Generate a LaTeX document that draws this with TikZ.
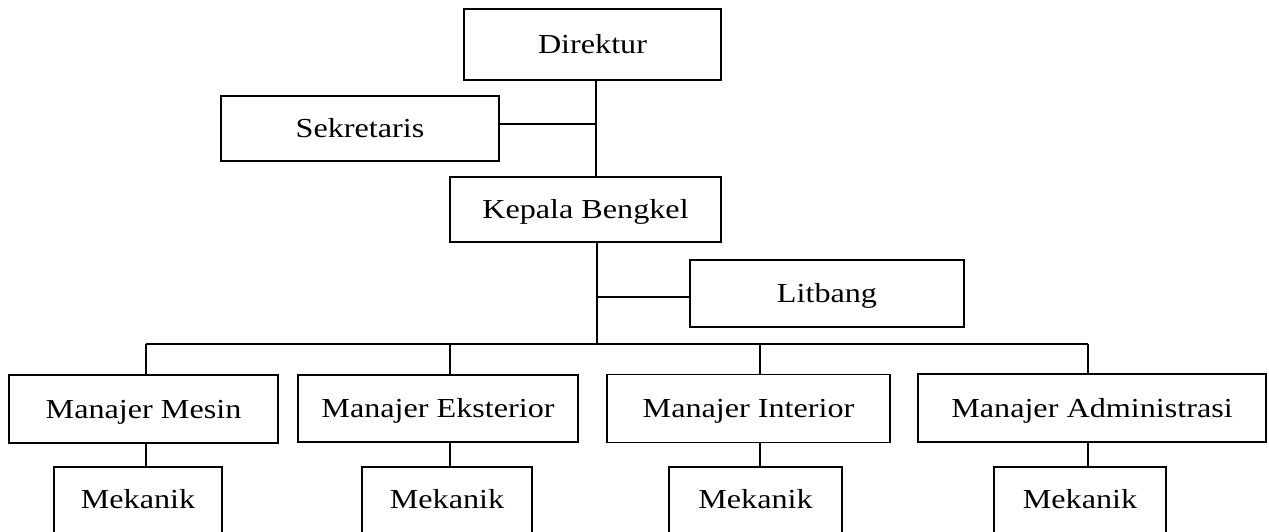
\documentclass[tikz,border=0pt]{standalone}
\usepackage{fontspec}
\setmainfont{Liberation Serif}[FakeStretch=1.17]
\begin{document}
\begin{tikzpicture}[x=1pt,y=-1pt,
  box/.style={draw, line width=1.4pt, inner sep=0pt, text height=19pt, text depth=1pt,
    font=\fontsize{27.5}{30}\selectfont},
  mek/.style={draw, line width=1.4pt, inner xsep=0pt, inner ysep=22pt, text height=19pt, text depth=45pt,
    anchor=base, font=\fontsize{27.5}{30}\selectfont},
  conn/.style={line width=1.4pt}]
\useasboundingbox (0,0) rectangle (1269,531);
\clip (0,0) rectangle (1269,531);
\fill[white] (0,0) rectangle (1269,531);
% boxes
\node[box, minimum width=257pt, minimum height=71pt] (dir) at (592.5,44.5) {Direktur};
\node[box, minimum width=278pt, minimum height=65pt] (sek) at (360,128.5) {Sekretaris};
\node[box, minimum width=271pt, minimum height=65pt] (kep) at (585.5,209.5) {Kepala Bengkel};
\node[box, minimum width=274pt, minimum height=67pt] (lit) at (827,293.5) {Litbang};
\node[box, minimum width=269pt, minimum height=68pt] (mm) at (143.5,409) {Manajer Mesin};
\node[box, minimum width=280pt, minimum height=67pt] (me) at (438,408.5) {Manajer Eksterior};
\node[box, minimum width=283pt, minimum height=68pt] (mi) at (748.5,408.5) {Manajer Interior};
\node[box, minimum width=348pt, minimum height=68pt] (ma) at (1092,408) {Manajer Administrasi};
\node[mek, minimum width=168pt] (k1) at (138,508) {Mekanik};
\node[mek, minimum width=170pt] (k2) at (447,508) {Mekanik};
\node[mek, minimum width=173pt] (k3) at (755.5,508) {Mekanik};
\node[mek, minimum width=172pt] (k4) at (1080,508) {Mekanik};
% junctions
\coordinate (j1) at (596,124);
\coordinate (j2) at (597,297);
\coordinate (bL) at (146,344);
\coordinate (b2) at (450,344);
\coordinate (b3) at (760,344);
\coordinate (bR) at (1088,344);
% connectors
\draw[conn] (dir.south -| j1) -- (kep.north -| j1);
\draw[conn] (sek.east |- j1) -- (j1);
\draw[conn] (kep.south -| j2) -- (j2 |- bL);
\draw[conn] (j2) -- (lit.west |- j2);
\draw[conn] (bL) -- (bR);
\draw[conn] (bL) -- (mm.north -| bL);
\draw[conn] (b2) -- (me.north -| b2);
\draw[conn] (b3) -- (mi.north -| b3);
\draw[conn] (bR) -- (ma.north -| bR);
\draw[conn] (mm.south -| bL) -- (k1.north -| bL);
\draw[conn] (me.south -| b2) -- (k2.north -| b2);
\draw[conn] (mi.south -| b3) -- (k3.north -| b3);
\draw[conn] (ma.south -| bR) -- (k4.north -| bR);
\end{tikzpicture}
\end{document}
